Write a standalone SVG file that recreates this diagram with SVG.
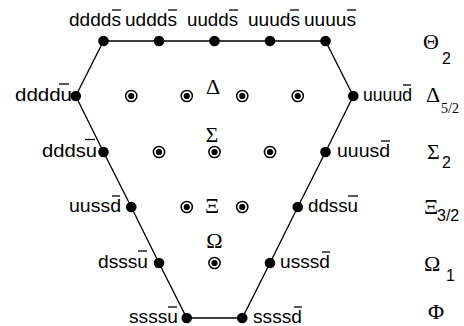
<svg xmlns="http://www.w3.org/2000/svg" width="464" height="326" viewBox="0 0 464 326">
<style>
.lbl{font-family:"Liberation Sans",Arial,sans-serif;font-size:19px;fill:#000}
.gr{font-family:"Liberation Serif","Times New Roman",serif;font-size:22px;fill:#000}
.sub{font-family:"Liberation Sans",Arial,sans-serif;font-size:16px;fill:#000}
.subs{font-family:"Liberation Serif","Times New Roman",serif;font-size:14px;fill:#000}
.bar{stroke:#000;stroke-width:1.3}
.dot{fill:#000}
.ring{fill:#fff;stroke:#000;stroke-width:1.5}
</style>
<rect width="464" height="326" fill="#fff"/>
<g id="connectors">
<polygon points="103.5,41 325.5,41 353.25,96 325.5,152 297.75,207 270,263 242.25,318 186.75,318 159,263 131.25,207 103.5,152 75.75,96" fill="none" stroke="#000" stroke-width="1.3"/>
</g>
<g id="n-dddds"><circle class="dot" cx="103.5" cy="41" r="5.3"/><text class="lbl" x="69" y="26" textLength="52" lengthAdjust="spacingAndGlyphs">dddds</text><line class="bar" x1="112" y1="10" x2="121" y2="10"/></g>
<g id="n-uddds"><circle class="dot" cx="159" cy="41" r="5.3"/><text class="lbl" x="125" y="26" textLength="52" lengthAdjust="spacingAndGlyphs">uddds</text><line class="bar" x1="168" y1="10" x2="177" y2="10"/></g>
<g id="n-uudds"><circle class="dot" cx="214.5" cy="41" r="5.3"/><text class="lbl" x="187" y="26" textLength="51" lengthAdjust="spacingAndGlyphs">uudds</text><line class="bar" x1="229" y1="10" x2="238" y2="10"/></g>
<g id="n-uuuds"><circle class="dot" cx="270" cy="41" r="5.3"/><text class="lbl" x="248" y="26" textLength="52" lengthAdjust="spacingAndGlyphs">uuuds</text><line class="bar" x1="290" y1="10" x2="299" y2="10"/></g>
<g id="n-uuuus"><circle class="dot" cx="325.5" cy="41" r="5.3"/><text class="lbl" x="304" y="26" textLength="52" lengthAdjust="spacingAndGlyphs">uuuus</text><line class="bar" x1="347" y1="10" x2="356" y2="10"/></g>
<g id="n-ddddu"><circle class="dot" cx="75.75" cy="96" r="5.3"/><text class="lbl" x="72" y="101" text-anchor="end" textLength="57" lengthAdjust="spacingAndGlyphs">ddddu</text><line class="bar" x1="59" y1="84" x2="69" y2="84"/></g>
<g id="n-uuuud"><circle class="dot" cx="353.25" cy="96" r="5.3"/><text class="lbl" x="363" y="101" textLength="49" lengthAdjust="spacingAndGlyphs">uuuud</text><line class="bar" x1="403" y1="85" x2="411" y2="85"/></g>
<g id="n-dddsu"><circle class="dot" cx="103.5" cy="152" r="5.3"/><text class="lbl" x="97" y="157" text-anchor="end" textLength="55" lengthAdjust="spacingAndGlyphs">dddsu</text><line class="bar" x1="85" y1="139.5" x2="95" y2="139.5"/></g>
<g id="n-uuusd"><circle class="dot" cx="325.5" cy="152" r="5.3"/><text class="lbl" x="337" y="157" textLength="53" lengthAdjust="spacingAndGlyphs">uuusd</text><line class="bar" x1="381" y1="141" x2="390" y2="141"/></g>
<g id="n-uussd"><circle class="dot" cx="131.25" cy="207" r="5.3"/><text class="lbl" x="121" y="212" text-anchor="end" textLength="52" lengthAdjust="spacingAndGlyphs">uussd</text><line class="bar" x1="112" y1="196" x2="120" y2="196"/></g>
<g id="n-ddssu"><circle class="dot" cx="297.75" cy="207" r="5.3"/><text class="lbl" x="308" y="212" textLength="50" lengthAdjust="spacingAndGlyphs">ddssu</text><line class="bar" x1="348" y1="196" x2="358" y2="196"/></g>
<g id="n-dsssu"><circle class="dot" cx="159" cy="263" r="5.3"/><text class="lbl" x="148" y="268" text-anchor="end" textLength="50" lengthAdjust="spacingAndGlyphs">dsssu</text><line class="bar" x1="138" y1="251" x2="147" y2="251"/></g>
<g id="n-usssd"><circle class="dot" cx="270" cy="263" r="5.3"/><text class="lbl" x="280" y="268" textLength="50" lengthAdjust="spacingAndGlyphs">usssd</text><line class="bar" x1="322" y1="252" x2="330" y2="252"/></g>
<g id="n-ssssu"><circle class="dot" cx="186.75" cy="318" r="5.3"/><text class="lbl" x="178" y="323" text-anchor="end" textLength="49" lengthAdjust="spacingAndGlyphs">ssssu</text><line class="bar" x1="168" y1="307" x2="177" y2="307"/></g>
<g id="n-ssssd"><circle class="dot" cx="242.25" cy="318" r="5.3"/><text class="lbl" x="253" y="323" textLength="49" lengthAdjust="spacingAndGlyphs">ssssd</text><line class="bar" x1="294" y1="307" x2="302" y2="307"/></g>
<g id="inner">
<circle class="ring" cx="131.25" cy="96" r="5.6"/><circle class="dot" cx="131.25" cy="96" r="3.1"/>
<circle class="ring" cx="186.75" cy="96" r="5.6"/><circle class="dot" cx="186.75" cy="96" r="3.1"/>
<circle class="ring" cx="242.25" cy="96" r="5.6"/><circle class="dot" cx="242.25" cy="96" r="3.1"/>
<circle class="ring" cx="297.75" cy="96" r="5.6"/><circle class="dot" cx="297.75" cy="96" r="3.1"/>
<circle class="ring" cx="159" cy="152" r="5.6"/><circle class="dot" cx="159" cy="152" r="3.1"/>
<circle class="ring" cx="214.5" cy="152" r="5.6"/><circle class="dot" cx="214.5" cy="152" r="3.1"/>
<circle class="ring" cx="270" cy="152" r="5.6"/><circle class="dot" cx="270" cy="152" r="3.1"/>
<circle class="ring" cx="186.75" cy="207" r="5.6"/><circle class="dot" cx="186.75" cy="207" r="3.1"/>
<circle class="ring" cx="242.25" cy="207" r="5.6"/><circle class="dot" cx="242.25" cy="207" r="3.1"/>
<circle class="ring" cx="214.5" cy="263" r="5.6"/><circle class="dot" cx="214.5" cy="263" r="3.1"/>
<text class="gr" x="213" y="94" text-anchor="middle">Δ</text>
<text class="gr" x="212" y="142" text-anchor="middle">Σ</text>
<text class="gr" x="212" y="213" text-anchor="middle">Ξ</text>
<text class="gr" x="214.5" y="248" text-anchor="middle">Ω</text>
</g>
<g id="legend">
<text class="gr" x="423" y="49">Θ</text><text class="sub" x="442" y="64">2</text>
<text class="gr" x="426" y="102">Δ</text><text class="subs" x="441" y="113">5/2</text>
<text class="gr" x="427" y="159">Σ</text><text class="sub" x="442" y="168">2</text>
<text class="gr" x="424" y="214">Ξ</text><text class="sub" x="437" y="221">3/2</text>
<text class="gr" x="424" y="271">Ω</text><text class="sub" x="446" y="281">1</text>
<text class="gr" x="428" y="319" font-size="21">Φ</text>
</g>
</svg>
